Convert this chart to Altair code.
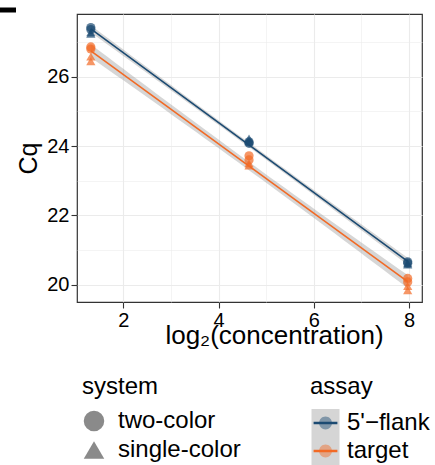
import altair as alt
import numpy as np
import pandas as pd

# ---------------- data ----------------
assay_names = ["5'−flank", "target"]
system_names = ["two-color", "single-color"]
log2_conc = [1.32, 4.64, 7.97]

# two replicates per concentration (order: conc1 x2, conc2 x2, conc3 x2)
cq_flank_two = [27.42, 27.36, 24.12, 24.08, 20.66, 20.62]
cq_flank_single = [27.28, 27.24, 24.22, 24.14, 20.62, 20.58]
cq_target_two = [26.86, 26.80, 23.72, 23.60, 20.18, 20.08]
cq_target_single = [26.58, 26.45, 23.50, 23.44, 19.96, 19.84]

assay_colors = ["#1b4a72", "#f26a25"]
x_ticks = [1, 2, 3, 4, 5, 6, 7, 8]
y_ticks = [20, 21, 22, 23, 24, 25, 26, 27]

# ---------------- tables ----------------
rows = []
series = [
    ("5'−flank", "two-color", cq_flank_two),
    ("5'−flank", "single-color", cq_flank_single),
    ("target", "two-color", cq_target_two),
    ("target", "single-color", cq_target_single),
]
for a, s, vals in series:
    for i, v in enumerate(vals):
        rows.append({"assay": a, "system": s, "log2conc": log2_conc[i // 2], "cq": v})
df = pd.DataFrame(rows)

# linear-model confidence band (like geom_smooth(method = "lm"))
band_rows = []
for a in assay_names:
    sub = df[df.assay == a]
    xs = sub.log2conc.to_numpy()
    ys = sub.cq.to_numpy()
    n = len(xs)
    slope, icpt = np.polyfit(xs, ys, 1)
    resid = ys - (slope * xs + icpt)
    s_err = np.sqrt(np.sum(resid ** 2) / (n - 2))
    sxx = np.sum((xs - xs.mean()) ** 2)
    t_crit = 2.228  # t(0.975, df = 10)
    for x0 in np.linspace(xs.min(), xs.max(), 40):
        fit = slope * x0 + icpt
        se = s_err * np.sqrt(1 / n + (x0 - xs.mean()) ** 2 / sxx)
        band_rows.append({"assay_b": a, "log2conc": x0,
                          "lo": fit - t_crit * se, "hi": fit + t_crit * se})
band_df = pd.DataFrame(band_rows)

FONT = "Liberation Sans"
even = "datum.value % 2 === 0"

x_scale = alt.Scale(domain=[1.03, 8.27], nice=False, zero=False)
y_scale = alt.Scale(domain=[19.5, 27.81], nice=False, zero=False)

x_axis = alt.Axis(
    values=x_ticks, title="log₂(concentration)",
    labelExpr=f"{even} ? datum.label : ''",
    tickOpacity={"condition": {"test": even, "value": 1}, "value": 0},
    gridWidth={"condition": {"test": even, "value": 1.1}, "value": 0.55},
    titleX=197, titleY=41, titleBaseline="alphabetic", titleAlign="center",
    titleAnchor="start", titleFontSize=26,
)
y_axis = alt.Axis(
    values=y_ticks, title="Cq",
    labelExpr=f"{even} ? datum.label : ''",
    tickOpacity={"condition": {"test": even, "value": 1}, "value": 0},
    gridWidth={"condition": {"test": even, "value": 1.1}, "value": 0.55},
    titleX=-41, titleY=144, titleBaseline="alphabetic", titleAlign="center",
    titleAnchor="start", titleAngle=-90,
)

SQ = "M-1,-1H1V1H-1Z"
CIRC = "M-1,-1M1,1M0.46,0A0.46,0.46,0,1,1,-0.46,0A0.46,0.46,0,1,1,0.46,0Z"
LINE = "M-1,-1M1,1M-0.85,0H0.85"

assay_common = dict(
    orient="none", legendX=233, legendY=361,
    titleFontSize=24, labelFontSize=24, symbolSize=784, rowPadding=0,
    clipHeight=28, symbolStrokeWidth=2.5,
    titlePadding=10, labelOffset=6, padding=0, symbolOffset=0,
    titleFont=FONT, labelFont=FONT, titleFontWeight="normal",
    titleColor="black", labelColor="black",
)
hidden_text = dict(title=" ", labelExpr="''")

base = alt.Chart(df)

band = alt.Chart(band_df).mark_area(opacity=0.4).encode(
    x=alt.X("log2conc:Q", scale=x_scale, axis=x_axis),
    y=alt.Y("lo:Q", scale=y_scale, axis=y_axis),
    y2="hi:Q",
    fill=alt.Fill("assay_b:N", scale=alt.Scale(range=["#999999", "#999999"]),
                  legend=alt.Legend(symbolType=SQ, symbolOpacity=0.4,
                                    symbolStrokeColor="transparent",
                                    **hidden_text, **assay_common)),
)

lines = base.transform_regression(
    "log2conc", "cq", groupby=["assay"]
).transform_calculate(assay_l="datum.assay").mark_line(strokeWidth=1.6).encode(
    x=alt.X("log2conc:Q", scale=x_scale, axis=x_axis),
    y=alt.Y("cq:Q", scale=y_scale, axis=y_axis),
    stroke=alt.Stroke("assay_l:N", scale=alt.Scale(range=assay_colors),
                      legend=alt.Legend(symbolType=LINE, symbolOpacity=1,
                                        **hidden_text, **assay_common)),
)

points = base.mark_point(filled=True, opacity=0.7, size=85).encode(
    x=alt.X("log2conc:Q", scale=x_scale, axis=x_axis),
    y=alt.Y("cq:Q", scale=y_scale, axis=y_axis),
    color=alt.Color("assay:N", scale=alt.Scale(domain=assay_names, range=assay_colors),
                    legend=alt.Legend(symbolType=CIRC, symbolOpacity=0.45,
                                      symbolStrokeColor="transparent", title="assay",
                                      **assay_common)),
    shape=alt.Shape("system:N", scale=alt.Scale(domain=system_names, range=["circle", "triangle-up"]),
                    legend=alt.Legend(orient="none", legendX=5, legendY=361, title="system",
                                      titleFontSize=24, labelFontSize=24, symbolSize=420,
                                      rowPadding=5, titlePadding=10, labelOffset=12, padding=0,
                                      symbolFillColor="#8a8a8a", symbolStrokeColor="#8a8a8a",
                                      symbolStrokeWidth=0, symbolOpacity=1,
                                      titleFont=FONT, labelFont=FONT, titleFontWeight="normal",
                                      titleColor="black", labelColor="black")),
)

corner = alt.Chart(alt.Data(values=[{}])).mark_rule(color="black", strokeWidth=5).encode(
    x=alt.value(-77), x2=alt.value(-61), y=alt.value(-4)
)

chart = alt.layer(band, lines, points, corner).properties(
    width=345, height=288,
    autosize=alt.AutoSizeParams(type="none"),
    padding={"left": 77, "top": 14, "right": 13, "bottom": 163},
).configure_view(
    stroke="#333333", strokeWidth=1.2
).configure_axis(
    labelFont=FONT, titleFont=FONT, labelFontSize=20, titleFontSize=25,
    labelColor="black", titleColor="black", titleFontWeight="normal",
    tickColor="#333333", tickSize=6, tickWidth=1.1, labelPadding=2,
    domain=False, gridColor="#ebebeb",
).configure_axisX(labelBaseline="top").configure_axisY(labelAlign="right")

chart.save("out.html", embed_options={"renderer": "svg", "actions": False})
